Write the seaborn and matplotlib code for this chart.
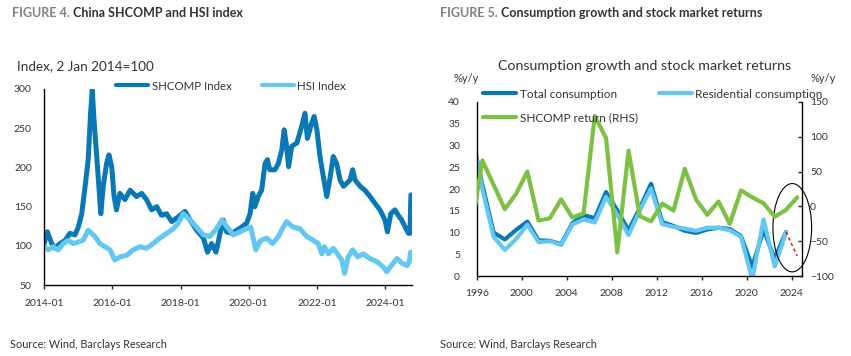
import pandas as pd
import matplotlib
matplotlib.use("Agg")
import matplotlib.pyplot as plt
import matplotlib.dates as mdates
from matplotlib.patches import Ellipse
from matplotlib.lines import Line2D
import seaborn as sns

# Figure 4 - index levels (2 Jan 2014 = 100)
shcomp_t = [2014.0, 2014.09, 2014.22, 2014.31, 2014.46, 2014.61, 2014.75, 2014.9, 2015.0, 2015.1,
            2015.2, 2015.29, 2015.36, 2015.41, 2015.46, 2015.54, 2015.59, 2015.66, 2015.73, 2015.83,
            2015.9, 2015.98, 2016.05, 2016.12, 2016.22, 2016.37, 2016.52, 2016.71, 2016.86, 2017.0,
            2017.15, 2017.3, 2017.44, 2017.59, 2017.74, 2017.93, 2018.13, 2018.28, 2018.47, 2018.67,
            2018.79, 2018.91, 2019.04, 2019.16, 2019.25, 2019.35, 2019.5, 2019.65, 2019.79, 2019.94,
            2020.04, 2020.12, 2020.18, 2020.28, 2020.38, 2020.48, 2020.55, 2020.62, 2020.77, 2020.87,
            2020.97, 2021.04, 2021.11, 2021.17, 2021.26, 2021.41, 2021.55, 2021.65, 2021.72, 2021.85,
            2021.92, 2022.0, 2022.09, 2022.19, 2022.29, 2022.39, 2022.48, 2022.58, 2022.68, 2022.78,
            2022.88, 2022.97, 2023.05, 2023.12, 2023.27, 2023.41, 2023.56, 2023.71, 2023.85, 2024.0,
            2024.07, 2024.17, 2024.29, 2024.39, 2024.49, 2024.59, 2024.69, 2024.73, 2024.76]
shcomp_v = [103, 118, 103, 97, 103, 107, 116, 114, 124, 141,
            176, 210, 269, 299, 261, 214, 184, 141, 176, 205,
            216, 201, 163, 146, 167, 159, 171, 163, 167, 159,
            146, 150, 139, 141, 131, 137, 144, 133, 120, 110,
            92, 103, 92, 116, 133, 118, 116, 120, 124, 129,
            141, 167, 150, 163, 171, 205, 210, 197, 197, 205,
            222, 248, 227, 201, 227, 231, 252, 269, 237, 257,
            265, 248, 214, 188, 163, 188, 214, 205, 184, 176,
            180, 184, 197, 184, 176, 171, 163, 154, 146, 133,
            118, 141, 146, 139, 133, 124, 116, 116, 165]

hsi_t = [2014.0, 2014.12, 2014.26, 2014.41, 2014.56, 2014.7, 2014.85, 2015.0, 2015.14, 2015.29,
         2015.39, 2015.49, 2015.63, 2015.78, 2015.93, 2016.07, 2016.22, 2016.42, 2016.61, 2016.81,
         2017.0, 2017.2, 2017.39, 2017.59, 2017.79, 2017.93, 2018.08, 2018.28, 2018.47, 2018.67,
         2018.86, 2019.06, 2019.21, 2019.37, 2019.55, 2019.75, 2019.94, 2020.06, 2020.21, 2020.35,
         2020.53, 2020.7, 2020.87, 2021.01, 2021.11, 2021.3, 2021.5, 2021.7, 2021.9, 2022.04,
         2022.14, 2022.22, 2022.34, 2022.48, 2022.6, 2022.73, 2022.81, 2022.92, 2023.05, 2023.2,
         2023.36, 2023.55, 2023.76, 2023.95, 2024.05, 2024.15, 2024.35, 2024.5, 2024.65, 2024.71,
         2024.75]
hsi_v = [99, 95, 99, 95, 103, 107, 103, 105, 107, 120,
         116, 112, 103, 99, 95, 82, 86, 88, 95, 99,
         97, 103, 110, 116, 122, 129, 141, 133, 124, 114,
         112, 122, 133, 124, 114, 118, 122, 124, 95, 107,
         110, 103, 112, 124, 131, 124, 122, 112, 107, 103,
         90, 99, 90, 97, 90, 82, 65, 86, 95, 86,
         90, 84, 80, 73, 67, 73, 84, 78, 75, 80,
         92]

# Figure 5 - annual growth, %y/y
cons_years = list(range(1995, 2024))
total_cons = [33, 21, 10, 8.4, 10.6, 12.5, 8.2, 8.1, 7.3, 12.1,
              14.0, 13.3, 19.3, 15.1, 10.5, 15.6, 21.2, 12.4, 11.5, 10.4,
              9.9, 10.7, 11.1, 10.8, 9.2, 2.1, 10.6, 4.0, 10.1]
resid_cons = [34, 20, 9.0, 6.0, 8.5, 11.8, 7.8, 8.0, 7.1, 11.8,
              13.0, 12.3, 18.2, 14.1, 9.4, 15.1, 20.1, 11.9, 11.3, 10.9,
              10.4, 11.1, 11.1, 10.5, 9.0, -0.8, 13.0, 2.2, 10.0]
ret_years = list(range(1995, 2025))
shcomp_ret = [-36, 66, 31, -4, 18, 50, -20.5, -17, 10, -16,
              -10, 130, 98, -66, 80, -14, -21.5, 4, -6, 54,
              10, -12, 7, -25, 23, 13, 4.5, -14.8, -5, 13]
est_years = [2023, 2024]
est_cons = [10.1, 4.6]

c_dark = "#0a78b4"
c_light = "#62c8f2"
c_green = "#7cc143"
c_text = "#333333"


def to_date(y):
    y0 = int(y)
    return pd.Timestamp(y0, 1, 1) + pd.Timedelta(days=(y - y0) * 365.25)


df_sh = pd.DataFrame({"date": [to_date(t) for t in shcomp_t], "value": shcomp_v})
df_hsi = pd.DataFrame({"date": [to_date(t) for t in hsi_t], "value": hsi_v})
df_cons = pd.DataFrame({"x": [y + 0.5 for y in cons_years], "total": total_cons, "resid": resid_cons})
df_ret = pd.DataFrame({"x": [y + 0.5 for y in ret_years], "ret": shcomp_ret})
df_est = pd.DataFrame({"x": [y + 0.5 for y in est_years], "v": est_cons})

sns.set_style("white")
plt.rcParams['font.family'] = ['Lato', 'DejaVu Sans']

fig = plt.figure(figsize=(8.51, 3.56), dpi=100)
renderer = fig.canvas.get_renderer()


def header(x, y, num, title):
    t1 = fig.text(x, y, num, fontsize=9, fontweight="bold", color="#808080", va="center")
    bb = t1.get_window_extent(renderer)
    fig.text(bb.x1 / fig.bbox.width + 0.004, y, title, fontsize=9, fontweight="bold",
             color=c_text, va="center")


# ---------------- Figure 4 ----------------
ax1 = fig.add_axes([0.052, 0.199, 0.432, 0.551])
sns.lineplot(data=df_sh, x="date", y="value", ax=ax1, color=c_dark, lw=3.6)
sns.lineplot(data=df_hsi, x="date", y="value", ax=ax1, color=c_light, lw=3.6)
ax1.set_xlim(pd.Timestamp("2014-01-01"), pd.Timestamp("2024-10-15"))
ax1.set_ylim(50, 300)
ax1.set_yticks([50, 100, 150, 200, 250, 300])
ax1.xaxis.set_major_locator(mdates.YearLocator(2))
ax1.xaxis.set_major_formatter(mdates.DateFormatter("%Y-%m"))
ax1.set_xlabel("")
ax1.set_ylabel("")
for s in ["top", "right"]:
    ax1.spines[s].set_visible(False)
for s in ["left", "bottom"]:
    ax1.spines[s].set_color("black")
    ax1.spines[s].set_linewidth(1)
ax1.tick_params(axis="y", length=0, pad=9, labelsize=7.5, labelcolor=c_text)
ax1.tick_params(axis="x", length=3, width=1, direction="out", bottom=True, pad=7,
                labelsize=7.5, labelcolor=c_text)

h1 = [Line2D([], [], color=c_dark, lw=3), Line2D([], [], color=c_light, lw=3)]
ax1.legend(h1, ["SHCOMP Index", "HSI Index"], ncol=2, frameon=False, fontsize=8.3,
           loc="center left", bbox_to_anchor=(116 / 851, 1 - 86 / 356), bbox_transform=fig.transFigure,
           borderpad=0, borderaxespad=0, handlelength=2.8, handletextpad=0.3, columnspacing=2.6,
           labelcolor=c_text)

header(12 / 851, 1 - 13 / 356, "FIGURE 4.", "China SHCOMP and HSI index")
fig.text(17 / 851, 1 - 66.5 / 356, "Index, 2 Jan 2014=100", fontsize=9.7, color=c_text, va="center")
fig.text(10 / 851, 1 - 345 / 356, "Source: Wind, Barclays Research", fontsize=7.8, color=c_text, va="center")

# ---------------- Figure 5 ----------------
ax2 = fig.add_axes([0.5602, 0.2247, 0.3819, 0.4888])
ax3 = ax2.twinx()
sns.lineplot(data=df_cons, x="x", y="total", ax=ax2, color=c_dark, lw=3)
sns.lineplot(data=df_cons, x="x", y="resid", ax=ax2, color=c_light, lw=3)
sns.lineplot(data=df_est, x="x", y="v", ax=ax2, color="red", lw=1.1, linestyle=(0, (2, 2)))
sns.lineplot(data=df_ret, x="x", y="ret", ax=ax3, color=c_green, lw=3)

ax2.set_xlim(1996, 2024.9)
ax2.set_ylim(0, 40)
ax3.set_ylim(-100, 150)
ax2.set_xticks(range(1996, 2025, 4))
ax2.set_yticks(range(0, 41, 5))
ax3.set_yticks(range(-100, 151, 50))
for a in (ax2, ax3):
    a.set_xlabel("")
    a.set_ylabel("")
    a.spines["top"].set_visible(False)
    for s in ["left", "bottom", "right"]:
        a.spines[s].set_color("black")
        a.spines[s].set_linewidth(1)
ax2.spines["right"].set_visible(False)
ax3.spines["left"].set_visible(False)
ax3.spines["bottom"].set_visible(False)
ax2.tick_params(axis="y", length=0, pad=12, labelsize=7.5, labelcolor=c_text)
ax2.tick_params(axis="x", length=3, width=1, direction="out", bottom=True, pad=6,
                labelsize=7.5, labelcolor=c_text)
ax3.tick_params(axis="y", length=3, width=1, direction="in", right=True, pad=6,
                labelsize=7.5, labelcolor=c_text)

ell = Ellipse((2024.06, 11.1), width=3.44, height=20.3, fill=False, edgecolor="black",
              lw=0.8, clip_on=False, zorder=5)
ax2.add_patch(ell)

h2 = [Line2D([], [], color=c_dark, lw=3), Line2D([], [], color=c_green, lw=3),
      Line2D([], [], color=c_light, lw=3)]
leg = ax3.legend(h2, ["Total consumption", "SHCOMP return (RHS)", "Residential consumption"],
                 ncol=2, frameon=False, fontsize=8.5, loc="center left",
                 bbox_to_anchor=(483 / 851, 1 - 106 / 356), bbox_transform=fig.transFigure,
                 borderpad=0, borderaxespad=0, handlelength=2.8, handletextpad=0.3,
                 columnspacing=1.8, labelspacing=1.1, labelcolor=c_text)
leg.set_zorder(10)

header(440 / 851, 1 - 13 / 356, "FIGURE 5.", "Consumption growth and stock market returns")
fig.text(645 / 851, 1 - 66 / 356, "Consumption growth and stock market returns", fontsize=10.3,
         color=c_text, ha="center", va="center")
fig.text(466 / 851, 1 - 78 / 356, "%y/y", fontsize=8, color=c_text, ha="center", va="center")
fig.text(823 / 851, 1 - 78 / 356, "%y/y", fontsize=8, color=c_text, ha="center", va="center")
fig.text(440 / 851, 1 - 345 / 356, "Source: Wind, Barclays Research", fontsize=7.8, color=c_text, va="center")

fig.savefig("out.png", dpi=100)
